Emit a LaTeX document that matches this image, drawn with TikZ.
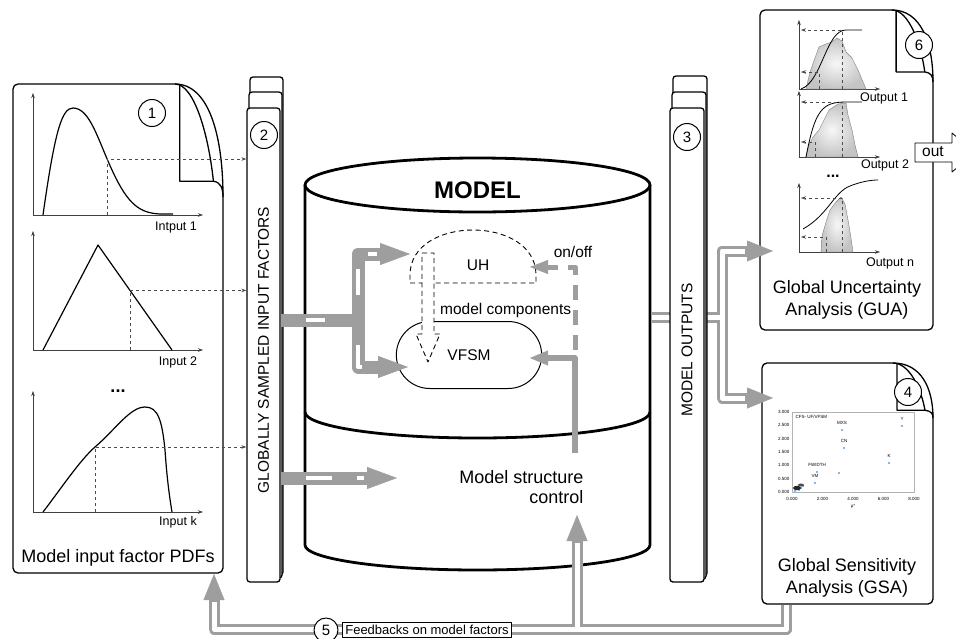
\documentclass[tikz,border=0pt]{standalone}
\usepackage{fontspec}
\setmainfont{Liberation Sans}
\usetikzlibrary{arrows.meta,shapes.misc}
\definecolor{flow gray}{RGB}{158, 158, 158}
\definecolor{cloud gray}{RGB}{196, 196, 196}
\definecolor{dot blue}{RGB}{95, 155, 225}

% page with a curled corner: left, top, right, bottom, curl width, curl height
\newcommand{\curlpage}[6]{%
  \draw[page line, fill=white, rounded corners=5pt] (#3-#5,#2) -- (#1,#2) -- (#1,#4) -- (#3,#4) -- (#3,#2+#6);
  \draw[page line] (#3,#2+#6) .. controls (#3,#2+0.45*#6) and (#3-0.3*#5,#2) .. (#3-#5,#2);
  \draw[page line] (#3-0.9*#5,#2+1) -- (#3-0.9*#5,#2+0.86*#6) -- (#3-0.2*#5,#2+0.86*#6)
      .. controls (#3-0.05*#5,#2+0.87*#6) and (#3,#2+0.92*#6) .. (#3,#2+#6);
  \draw[page line] (#3-0.2*#5,#2+0.86*#6) .. controls (#3-0.3*#5,#2+0.45*#6) and (#3-0.6*#5,#2) .. (#3-#5,#2);
}

\begin{document}
\begin{tikzpicture}[
        x=1pt, y=-1pt,
        line join=round,
        page line/.style={line width=1.3pt},
        panel/.style={draw, fill=white, line width=1.3pt, rounded corners=3pt, inner sep=0pt},
        badge/.style={circle, draw, fill=white, line width=1pt, minimum size=27pt, inner sep=0pt, font=\fontsize{15}{15}\selectfont},
        plot axis/.style={line width=0.5pt, draw=black!75, -{Stealth[length=5pt,width=3.5pt]}},
        sample/.style={dashed, line width=0.6pt, draw=black!70, -{Stealth[length=5pt,width=3.5pt]}},
        density/.style={line width=1.2pt},
        spread/.style={draw=black!50, line width=0.4pt, inner color=black!3, outer color=cloud gray},
        axis text/.style={font=\fontsize{12.5}{14}\selectfont},
        box text/.style={font=\fontsize{15.5}{18}\selectfont},
        title text/.style={font=\fontsize{18}{22}\selectfont, align=center},
        plot text/.style={font=\fontsize{4.5}{5}\selectfont, inner sep=0.5pt},
        drum/.style={line width=2.8pt},
        flow/.style={draw=flow gray, line width=11pt, -{Triangle[length=26pt,width=21pt,line width=0.4pt]}},
        flow core/.style={-, draw=white, line width=5pt, shorten >=28pt},
        bar/.style={draw=flow gray, line width=13pt, -{Triangle[length=30pt,width=22pt,line width=0.4pt]}},
        bar core/.style={-, draw=white, line width=4pt, dash pattern=on 26pt off 25pt, dash phase=26pt, shorten >=33pt},
        switch/.style={draw=flow gray, line width=5pt, dash pattern=on 15pt off 10pt, -{Triangle[length=18pt,width=14pt,line width=0.4pt]}},
        steer/.style={draw=flow gray, line width=5.5pt, -{Triangle[length=18pt,width=15pt,line width=0.4pt]}}
    ]
    \useasboundingbox (0,0) rectangle (956,638);

    % input factor pdfs
    \curlpage{13}{84}{223}{573}{48}{113}
    \node[badge] (n1) at (152,113) {1};
    \draw[plot axis] (33,215) -- (33,93);
    \draw[plot axis] (33,215) -- (203,215);
    \draw[density] (43,215) .. controls (55,130) and (62,108) .. (73,108)
        .. controls (90,108) and (98,140) .. (112,170)
        .. controls (128,205) and (140,213) .. (160,214) -- (173,214);
    \node[axis text] (in1) at (176,227) {Intput 1};
    \draw[plot axis] (33,350) -- (33,231);
    \draw[plot axis] (33,350) -- (203,350);
    \draw[density] (43,350) -- (98,245) -- (172,350);
    \node[axis text] (in2) at (178,362) {Input 2};
    \node[font=\bfseries\fontsize{18}{18}\selectfont] (dots1) at (118,391) {...};
    \draw[plot axis] (33,512) -- (33,391);
    \draw[plot axis] (33,512) -- (203,512);
    \draw[density] (43,512) .. controls (60,490) and (80,460) .. (95,447)
        .. controls (115,430) and (130,407) .. (145,407)
        .. controls (158,407) and (162,420) .. (165,450)
        .. controls (167,480) and (170,500) .. (172,512);
    \node[axis text] (ink) at (178,522) {Input k};
    \node[title text] (pdfs) at (118,558) {Model input factor PDFs};

    % model
    \draw[drum, fill=white] (305,185) -- (305,545)
        .. controls (305,558.8) and (382.2,570) .. (477.5,570)
        .. controls (572.8,570) and (650,558.8) .. (650,545) -- (650,185);
    \draw[drum, fill=white] (477.5,185) ellipse [x radius=172.5pt, y radius=27pt];
    \draw[drum] (305,412) .. controls (305,426.4) and (382.2,438) .. (477.5,438)
        .. controls (572.8,438) and (650,426.4) .. (650,412);
    \node[font=\bfseries\fontsize{24}{24}\selectfont] (model) at (477.5,190) {MODEL};
    \draw[dash pattern=on 5pt off 3.5pt, line width=0.9pt] (410,283) -- (536,283) -- (536,275)
        .. controls (536,215) and (410,215) .. (410,275) -- cycle;
    \node[box text] (uh) at (478,265) {UH};
    \node[draw, rounded rectangle, line width=1pt, minimum width=152pt, minimum height=67pt, box text] (vfsm) at (469,355) {VFSM};
    \draw[dash pattern=on 5pt off 3.5pt, line width=0.9pt, fill=white] (422,253) -- (434,253) -- (434,334) -- (440,334)
        -- (428,362) -- (416,334) -- (422,334) -- cycle;
    \node[box text, anchor=west, inner sep=0pt] (parts) at (440,310) {model components};
    \node[box text] (onoff) at (573,252) {on/off};
    \node[title text, align=right, anchor=east, font=\fontsize{18}{20}\selectfont] (ctrl) at (587,487) {Model structure\\control};
    \coordinate (switch foot) at (575,350);
    \coordinate (uh tip) at (530,267);
    \coordinate (vfsm tip) at (530,358);
    \coordinate (steer foot) at (575,453);
    \draw[switch] (switch foot) -- (switch foot |- uh tip) -- (uh tip);
    \draw[steer] (steer foot) -- (steer foot |- vfsm tip) -- (vfsm tip);

    % uncertainty analysis
    \curlpage{760}{10}{933}{330}{41}{72}
    \draw[plot axis] (799,89) -- (799,20);
    \draw[plot axis] (799,89) -- (880,89);
    \shadedraw[spread] (806,89) -- (810,72) -- (815,58) -- (819,47) -- (826,44) -- (832,42) -- (837,38)
        -- (842,41) -- (846,52) -- (852,58) -- (858,70) -- (866,89) -- cycle;
    \draw[line width=0.8pt] (801,89) .. controls (822,82) and (826,30) .. (846,30) -- (862,30);
    \draw[sample] (842,89) -- (842,30) -- (801,30);
    \draw[sample] (819,89) -- (819,72) -- (801,72);
    \node[axis text] (out1) at (884,98) {Output 1};
    \draw[plot axis] (799,157) -- (799,91);
    \draw[plot axis] (799,157) -- (880,157);
    \shadedraw[spread] (806,157) -- (809,145) -- (813,137) -- (819,130) -- (824,120) -- (829,110) -- (838,104)
        -- (846,103) -- (848,115) -- (852,130) -- (855,145) -- (858,157) -- cycle;
    \draw[line width=0.8pt] (806,157) .. controls (815,110) and (822,102) .. (846,102) -- (862,102);
    \draw[sample] (842,157) -- (842,102) -- (801,102);
    \draw[sample] (815,157) -- (815,142) -- (801,142);
    \node[axis text] (out2) at (885,165) {Output 2};
    \node[font=\bfseries\fontsize{16}{16}\selectfont] (dots2) at (833,176) {...};
    \draw[plot axis] (799,252) -- (799,183);
    \draw[plot axis] (799,252) -- (880,252);
    \shadedraw[spread] (821,252) -- (822,236) -- (826,222) -- (830,210) -- (836,202) -- (841,197)
        -- (845,204) -- (848,220) -- (851,238) -- (853,252) -- cycle;
    \draw[line width=0.8pt] (803,229) .. controls (828,215) and (834,192) .. (850,186)
        .. controls (860,182) and (870,180) .. (878,180);
    \draw[sample] (842,252) -- (842,198) -- (801,198);
    \draw[sample] (826,252) -- (826,237) -- (801,237);
    \node[axis text] (outn) at (890,263) {Output n};
    \node[title text] (gua) at (847,300) {Global Uncertainty\\Analysis (GUA)};
    \node[badge] (n6) at (919,45) {6};
    \draw[line width=0.8pt, fill=white] (915,143) -- (952,143) -- (952,133) -- (975,152.5) -- (952,172)
        -- (952,162) -- (915,162) -- cycle;
    \node[box text] (out) at (933,152) {out};

    % sensitivity analysis
    \curlpage{762}{363}{933}{604}{40}{55}
    \node[badge] (n4) at (908,392) {4};
    \draw[black!30, line width=0.4pt] (792,412) rectangle (914,492);
    \node[plot text, anchor=west] (plot title) at (795,417) {CFS- UF/VFSM};
    \foreach \val/\ypos in {3.000/412, 2.500/425.3, 2.000/438.7, 1.500/452, 1.000/465.3, 0.500/478.7, 0.000/492}
        \node[plot text, anchor=east] at (790,\ypos) {\val};
    \foreach \val/\xpos in {0.000/792, 2.000/822.5, 4.000/853, 6.000/883.5, 8.000/914}
        \node[plot text] at (\xpos,499) {\val};
    \node[plot text] (mu) at (853,506) {μ*};
    \foreach \xpos/\ypos/\name in {902/426/Y, 842/430/MXS, 844/448/CN, 889/463/K, 817/472/FWIDTH, 815/483/VM}{
        \fill[dot blue] (\xpos,\ypos) circle (1.1pt);
        \node[plot text] at (\xpos,\ypos-7) {\name};
    }
    \foreach \xpos/\ypos in {839/473, 801/488, 799/490, 795/491, 803/486}
        \fill[dot blue] (\xpos,\ypos) circle (1.1pt);
    \fill[black!85] (797,488) ellipse [x radius=4pt, y radius=2.2pt];
    \fill[black!70] (801,485) ellipse [x radius=3pt, y radius=1.5pt];
    \node[title text] (gsa) at (847,578) {Global Sensitivity\\Analysis (GSA)};

    % model outputs
    \coordinate (drum out) at (652,317);
    \coordinate (out turn) at (722,317);
    \coordinate (gua tip) at (773,251);
    \coordinate (gsa tip) at (773,398);
    \foreach \layer in {flow, flow core}{
        \draw[\layer] (drum out) -- (out turn) -- (out turn |- gua tip) -- (gua tip);
        \draw[\layer] (drum out) -- (out turn) -- (out turn |- gsa tip) -- (gsa tip);
    }
    \foreach \xl/\top/\bot in {673/76/576, 672/92/579}
        \draw[panel] (\xl,\top) rectangle (\xl+34,\bot);
    \node[panel, minimum width=34pt, minimum height=474pt] (outputs) at (687,345) {};
    \node[box text, rotate=90] (outputs text) at (687,350) {MODEL OUTPUTS};
    \node[badge] (n3) at (687,137) {3};

    % sampled input factors
    \foreach \xl/\top/\bot in {250/77/575, 249/92/578}
        \draw[panel] (\xl,\top) rectangle (\xl+33,\bot);
    \node[panel, minimum width=33pt, minimum height=474pt] (sampled) at (263.5,345) {};
    \node[box text, rotate=90] (sampled text) at (263.5,350) {GLOBALLY SAMPLED INPUT FACTORS};
    \node[badge] (n2) at (264,135) {2};
    \draw[sample] (107,215) -- (107,159) -- (sampled.west |- 0,159);
    \draw[sample] (130,350) -- (130,290.4) -- (sampled.west |- 0,290.4);
    \draw[sample] (95,512) -- (95,447) -- (sampled.west |- 0,447);
    \coordinate (in split) at (358,320);
    \coordinate (uh in) at (410,254);
    \coordinate (vfsm in) at (408,367);
    \coordinate (ctrl in) at (397,478);
    \foreach \layer in {bar, bar core}{
        \draw[\layer, -] (sampled.east |- in split) -- (in split);
        \draw[\layer] (in split) -- (in split |- uh in) -- (uh in);
        \draw[\layer] (in split) -- (in split |- vfsm in) -- (vfsm in);
        \draw[\layer] (sampled.east |- ctrl in) -- (ctrl in);
    }

    % feedbacks
    \coordinate (gsa foot) at (786,605);
    \coordinate (feed turn) at (786,629);
    \coordinate (pdf tip) at (214,574);
    \coordinate (ctrl tip) at (577,515);
    \foreach \layer in {flow, flow core}{
        \draw[\layer] (gsa foot) -- (feed turn) -- (ctrl tip |- feed turn) -- (ctrl tip);
        \draw[\layer] (gsa foot) -- (feed turn) -- (pdf tip |- feed turn) -- (pdf tip);
    }
    \node[draw, fill=white, line width=0.8pt, inner sep=2.5pt, font=\fontsize{13}{15}\selectfont] (feedback) at (427,630) {Feedbacks on model factors};
    \node[badge, minimum size=24pt] (n5) at (326,630) {5};
\end{tikzpicture}
\end{document}
